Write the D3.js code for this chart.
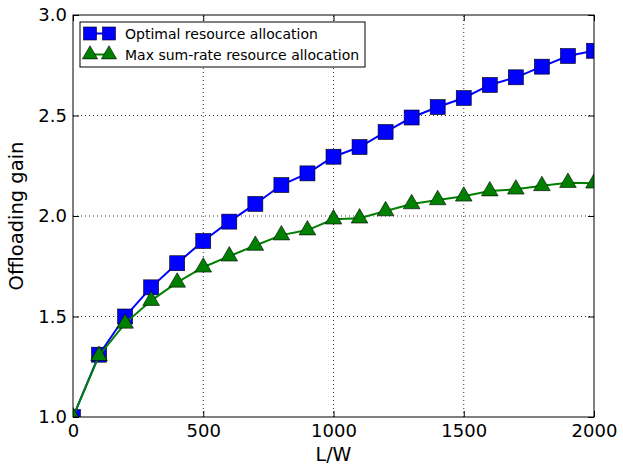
<!DOCTYPE html>
<html>
<head>
<meta charset="utf-8">
<script src="https://d3js.org/d3.v7.min.js"></script>
<style>
  body { margin: 0; background: #fff; }
  text { font-family: "DejaVu Sans", sans-serif; }
</style>
</head>
<body>
<svg id="chart" width="623" height="468"></svg>
<script>
// data
const xValues = [0, 100, 200, 300, 400, 500, 600, 700, 800, 900, 1000,
                 1100, 1200, 1300, 1400, 1500, 1600, 1700, 1800, 1900, 2000];
const optimalGain = [1.0, 1.31, 1.50, 1.645, 1.765, 1.876, 1.972, 2.06, 2.154, 2.212, 2.295,
                     2.343, 2.418, 2.49, 2.542, 2.587, 2.652, 2.69, 2.743, 2.796, 2.822];
const maxRateGain = [1.0, 1.305, 1.466, 1.579, 1.67, 1.745, 1.80, 1.853, 1.905, 1.93, 1.984,
                     1.989, 2.025, 2.06, 2.08, 2.098, 2.124, 2.133, 2.15, 2.166, 2.163];
const xTicks = [0, 500, 1000, 1500, 2000];
const yTicks = [1.0, 1.5, 2.0, 2.5, 3.0];
const seriesNames = ["Optimal resource allocation", "Max sum-rate resource allocation"];

const MARGINS = {top: 15, right: 29, bottom: 51, left: 73};
const width = 623, height = 468;

const svg = d3.select("#chart");

const x = d3.scaleLinear().domain([0, 2000]).range([MARGINS.left, width - MARGINS.right]);
const y = d3.scaleLinear().domain([1.0, 3.0]).range([height - MARGINS.bottom, MARGINS.top]);

// grid
const grid = svg.append("g");
grid.selectAll(".gx").data(xTicks.slice(1, -1)).enter().append("line")
    .attr("x1", d => x(d)).attr("x2", d => x(d))
    .attr("y1", y(1)).attr("y2", y(3))
    .attr("stroke", "#000").attr("stroke-width", 0.8).attr("stroke-dasharray", "1,3");
grid.selectAll(".gy").data(yTicks.slice(1, -1)).enter().append("line")
    .attr("y1", d => y(d)).attr("y2", d => y(d))
    .attr("x1", x(0)).attr("x2", x(2000))
    .attr("stroke", "#000").attr("stroke-width", 0.8).attr("stroke-dasharray", "1,3");

// axes, ticks pointing inward like the classic matplotlib look
const fmtY = d3.format(".1f");
const xAxisB = d3.axisBottom(x).tickValues(xTicks).tickSize(-6).tickPadding(7).tickFormat(d3.format("d"));
const xAxisT = d3.axisTop(x).tickValues(xTicks).tickSize(-6).tickFormat("");
const yAxisL = d3.axisLeft(y).tickValues(yTicks).tickSize(-6).tickPadding(6).tickFormat(fmtY);
const yAxisR = d3.axisRight(y).tickValues(yTicks).tickSize(-6).tickFormat("");

function styleAxis(g) {
    g.select(".domain").remove();
    g.selectAll("line").attr("stroke", "#000");
    g.selectAll("text").attr("font-size", 18).attr("fill", "#000")
        .style("font-family", "DejaVu Sans, sans-serif");
}
svg.append("g").attr("transform", `translate(0,${y(1)})`).call(xAxisB).call(styleAxis);
svg.append("g").attr("transform", `translate(0,${y(3)})`).call(xAxisT).call(styleAxis);
svg.append("g").attr("transform", `translate(${x(0)},0)`).call(yAxisL).call(styleAxis);
svg.append("g").attr("transform", `translate(${x(2000)},0)`).call(yAxisR).call(styleAxis);

// lines and markers
const line = d3.line().x(d => x(d[0])).y(d => y(d[1]));
const optData = xValues.map((v, i) => [v, optimalGain[i]]);
const maxData = xValues.map((v, i) => [v, maxRateGain[i]]);

const plot = svg.append("g");
svg.append("clipPath").attr("id", "clip").append("rect")
    .attr("x", x(0)).attr("y", y(3)).attr("width", x(2000) - x(0)).attr("height", y(1) - y(3));
plot.attr("clip-path", "url(#clip)");

plot.append("path").datum(optData).attr("d", line)
    .attr("fill", "none").attr("stroke", "#0000ff").attr("stroke-width", 2);
plot.selectAll(".sq").data(optData).enter().append("rect")
    .attr("x", d => x(d[0]) - 7.5).attr("y", d => y(d[1]) - 7.5)
    .attr("width", 15).attr("height", 15)
    .attr("fill", "#0000ff").attr("stroke", "#000").attr("stroke-width", 0.6);

const tri = d3.symbol().type(d3.symbolTriangle).size(120);
plot.append("path").datum(maxData).attr("d", line)
    .attr("fill", "none").attr("stroke", "#008000").attr("stroke-width", 2);
plot.selectAll(".tri").data(maxData).enter().append("path")
    .attr("d", tri)
    .attr("transform", d => `translate(${x(d[0])},${y(d[1])})`)
    .attr("fill", "#008000").attr("stroke", "#000").attr("stroke-width", 0.6);

// frame
svg.append("rect")
    .attr("x", x(0)).attr("y", y(3)).attr("width", x(2000) - x(0)).attr("height", y(1) - y(3))
    .attr("fill", "none").attr("stroke", "#000").attr("stroke-width", 1);

// labels
svg.append("text").attr("x", (x(0) + x(2000)) / 2).attr("y", 461)
    .attr("text-anchor", "middle").attr("font-size", 19).text("L/W");
svg.append("text").attr("transform", `translate(23,${(y(1) + y(3)) / 2}) rotate(-90)`)
    .attr("text-anchor", "middle").attr("font-size", 19.5).text("Offloading gain");

// legend
const legend = svg.append("g").attr("transform", "translate(80,22)");
legend.append("rect").attr("width", 285).attr("height", 45)
    .attr("fill", "#fff").attr("stroke", "#000").attr("stroke-width", 1);
seriesNames.forEach(function(name, i) {
    const ly = 11.5 + i * 21;
    const color = i === 0 ? "#0000ff" : "#008000";
    legend.append("line").attr("x1", 10).attr("x2", 29).attr("y1", ly).attr("y2", ly)
        .attr("stroke", color).attr("stroke-width", 2);
    [10, 29].forEach(function(mx) {
        if (i === 0) {
            legend.append("rect").attr("x", mx - 6.5).attr("y", ly - 6.5)
                .attr("width", 13).attr("height", 13)
                .attr("fill", color).attr("stroke", "#000").attr("stroke-width", 0.6);
        } else {
            legend.append("path").attr("d", d3.symbol().type(d3.symbolTriangle).size(100))
                .attr("transform", `translate(${mx},${ly})`)
                .attr("fill", color).attr("stroke", "#000").attr("stroke-width", 0.6);
        }
    });
    legend.append("text").attr("x", 45).attr("y", ly + 5)
        .attr("font-size", 14).text(name);
});
</script>
</body>
</html>
